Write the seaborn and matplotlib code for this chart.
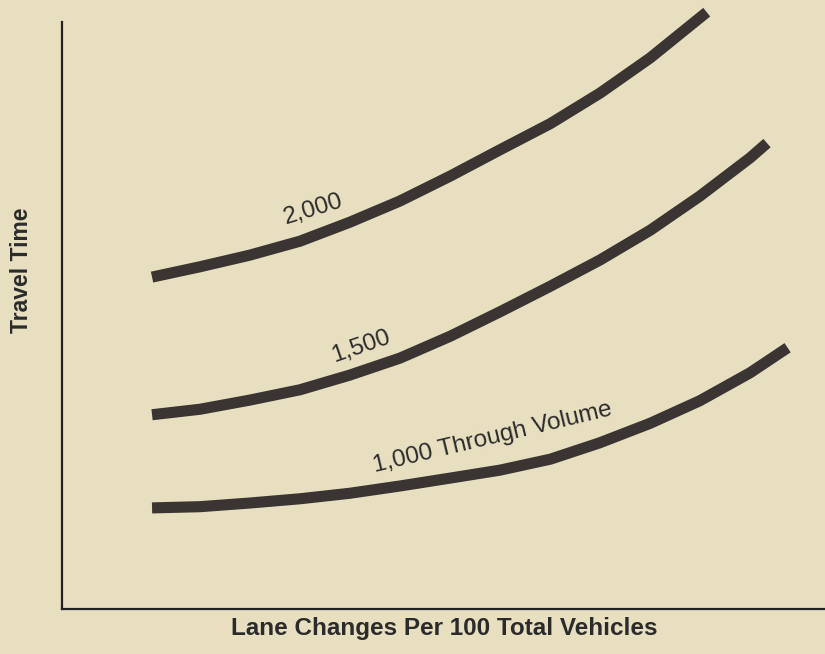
import matplotlib
matplotlib.use('Agg')
import matplotlib.pyplot as plt
import pandas as pd
import seaborn as sns

# Curve values (x: lane changes, y: travel time, arbitrary units)
x_2000 = [1.18, 1.81, 2.46, 3.12, 3.77, 4.43, 5.09, 5.74, 6.40, 7.05, 7.71, 8.45]
y_2000 = [5.45, 5.62, 5.81, 6.04, 6.35, 6.70, 7.11, 7.54, 7.97, 8.47, 9.05, 9.80]

x_1500 = [1.18, 1.81, 2.46, 3.12, 3.77, 4.43, 5.09, 5.74, 6.40, 7.05, 7.71, 8.36, 9.02, 9.24]
y_1500 = [3.19, 3.28, 3.43, 3.60, 3.84, 4.12, 4.48, 4.88, 5.30, 5.73, 6.22, 6.78, 7.41, 7.65]

x_1000 = [1.18, 1.81, 2.46, 3.12, 3.77, 4.43, 5.09, 5.74, 6.40, 7.05, 7.71, 8.36, 9.02, 9.51]
y_1000 = [1.66, 1.68, 1.74, 1.81, 1.90, 2.02, 2.15, 2.28, 2.46, 2.73, 3.05, 3.42, 3.88, 4.29]

volumes = ['2,000', '1,500', '1,000 Through Volume']
label_pos = [(3.29, 6.56, 17), (3.92, 4.31, 19), (5.65, 2.81, 13.5)]

bg = '#e8dfc1'
ink = '#3a3532'

df = pd.concat([
    pd.DataFrame({'x': x_2000, 'y': y_2000, 'volume': volumes[0]}),
    pd.DataFrame({'x': x_1500, 'y': y_1500, 'volume': volumes[1]}),
    pd.DataFrame({'x': x_1000, 'y': y_1000, 'volume': volumes[2]}),
])

sns.set_style('white')
plt.rcParams['font.family'] = ['Liberation Sans', 'DejaVu Sans']

fig = plt.figure(figsize=(8.25, 6.54), dpi=100, facecolor=bg)
ax = fig.add_axes([62 / 825, (654 - 609) / 654, 763 / 825, 609 / 654])
ax.set_facecolor(bg)

sns.lineplot(data=df, x='x', y='y', hue='volume', palette=[ink] * 3,
             linewidth=8, sort=False, legend=False, ax=ax)
for line in ax.lines:
    line.set_solid_capstyle('butt')
    line.set_solid_joinstyle('round')

for text, (tx, ty, rot) in zip(volumes, label_pos):
    ax.text(tx, ty, text, fontsize=17.5, color='#2b2b2b', rotation=rot,
            ha='center', va='center', rotation_mode='anchor')

ax.set_xlim(0, 10)
ax.set_ylim(0, 10)
ax.set_xticks([])
ax.set_yticks([])
ax.set_xlabel('')
ax.set_ylabel('')
for side in ['top', 'right']:
    ax.spines[side].set_visible(False)
for side in ['left', 'bottom']:
    ax.spines[side].set_color('#222222')
    ax.spines[side].set_linewidth(1.6)
ax.spines['left'].set_bounds(0, 9.64)

fig.text(444 / 825, 1 - 628 / 654, 'Lane Changes Per 100 Total Vehicles',
         fontsize=17.5, fontweight='bold', color='#2b2b2b', ha='center', va='center')
fig.text(22 / 825, 1 - 270 / 654, 'Travel Time', fontsize=16.5, fontweight='bold',
         color='#2b2b2b', ha='center', va='center', rotation=90)

fig.savefig('out.png', dpi=100, facecolor=bg)
